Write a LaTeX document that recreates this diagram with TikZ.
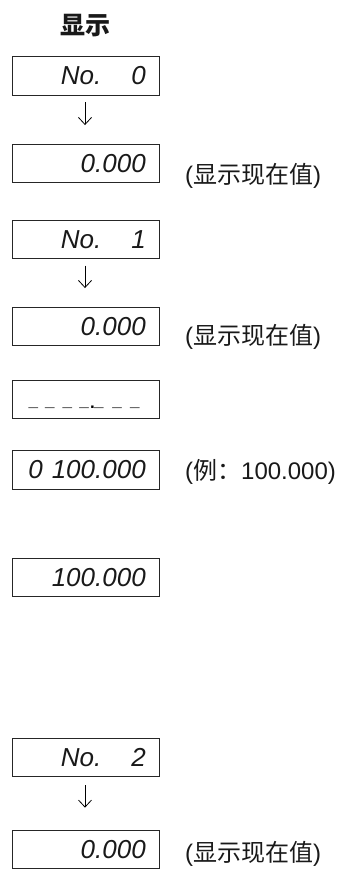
\documentclass[tikz,border=0pt]{standalone}
\usepackage{fontspec}
\usepackage{pdfrender}
\usetikzlibrary{arrows.meta}
\newfontfamily\cjk{Noto Sans CJK SC}
\newfontfamily\lat{Liberation Sans}
\newcommand\segtext[1]{\textpdfrender{TextRenderingMode=1,LineWidth=0.55pt,LineJoin=1}{#1}}
\newcommand\nowval{{\lat(}{\cjk 显示现在值}{\lat)}}
\begin{document}
\begin{tikzpicture}[x=1pt,y=-1pt,
  lcd/.style={draw=black!85, line width=0.9pt, minimum width=147pt, minimum height=38.4pt, inner sep=0pt},
  digits/.style={font=\lat\itshape\fontsize{26}{30}\selectfont, text=black!90, inner sep=0pt, anchor=east, xshift=-14pt},
  note/.style={font=\fontsize{24}{28}\selectfont, text=black!90, inner sep=0pt, anchor=west},
  flow/.style={line width=0.8pt, -{Straight Barb[length=7pt,width=13pt]}, shorten <=6.5pt, shorten >=19pt}
]
\useasboundingbox (0,0) rectangle (337,869);

\node[font=\cjk\bfseries\fontsize{25}{30}\selectfont, text=black!90, inner sep=0pt] (title) at (85,26) {显示};

\node[lcd] (b1) at (86,76) {};
\node[lcd] (b2) at (86,163.7) {};
\node[lcd] (b3) at (86,239.5) {};
\node[lcd] (b4) at (86,326.7) {};
\node[lcd] (b5) at (86,399.5) {};
\node[lcd] (b6) at (86,470) {};
\node[lcd] (b7) at (86,577.5) {};
\node[lcd] (b8) at (86,757.5) {};
\node[lcd] (b9) at (86,849.3) {};

\node[digits] (s1) at (b1.east) {\segtext{No.\hspace{30pt}0}};
\node[digits] (s2) at (b2.east) {\segtext{0.000}};
\node[digits] (s3) at (b3.east) {\segtext{No.\hspace{30pt}1}};
\node[digits] (s4) at (b4.east) {\segtext{0.000}};
\node[font=\lat\bfseries\fontsize{17}{20}\selectfont, text=black, inner sep=0pt, anchor=base west] (s5) at (28.3,406.4)
  {\_\hspace{7.3pt}\_\hspace{7.8pt}\_\hspace{7.5pt}\_\hspace{1.3pt}\raisebox{-1.8pt}{.}\hspace{-0.8pt}\_\hspace{8.8pt}\_\hspace{8.2pt}\_};
\node[digits] (s6) at (b6.east) {\segtext{0\hspace{9pt}100.000}};
\node[digits] (s7) at (b7.east) {\segtext{100.000}};
\node[digits] (s8) at (b8.east) {\segtext{No.\hspace{30pt}2}};
\node[digits] (s9) at (b9.east) {\segtext{0.000}};

\draw[flow] ([xshift=-1pt]b1.south) -- ([xshift=-1pt]b2.north);
\draw[flow] ([xshift=-1pt]b3.south) -- ([xshift=-1pt]b4.north);
\draw[flow, shorten <=8pt, shorten >=22pt] ([xshift=-1pt]b8.south) -- ([xshift=-1pt]b9.north);

\node[note] (n2) at (185,176) {\nowval};
\node[note] (n4) at (185,337) {\nowval};
\node[note] (n6) at (185,472) {{\lat(}{\cjk 例：}{\lat 100.000)}};
\node[note] (n9) at (185,853.5) {\nowval};
\end{tikzpicture}
\end{document}
